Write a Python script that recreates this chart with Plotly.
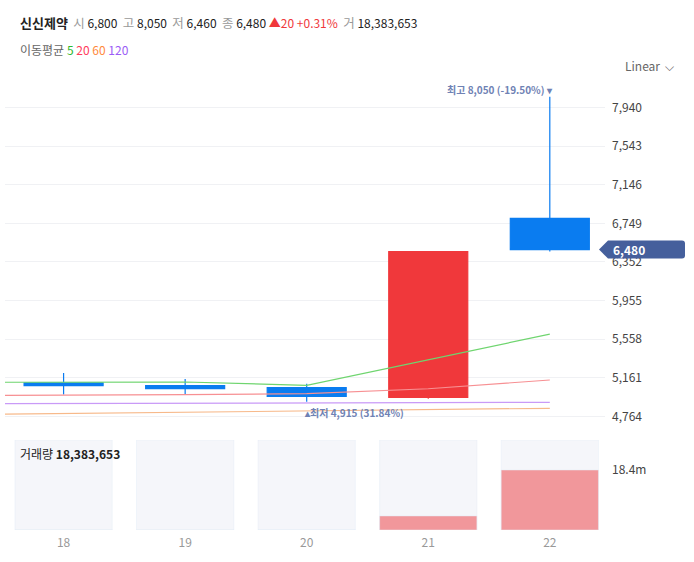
import plotly.graph_objects as go

# daily candles (day of month)
days = [18, 19, 20, 21, 22]
day_labels = ['18', '19', '20', '21', '22']
opens = [5110, 5080, 5060, 4960, 6800]
highs = [5210, 5150, 5100, 6460, 8050]
lows = [4990, 4990, 4915, 4945, 6460]
closes = [5080, 5050, 4970, 6460, 6480]
volumes = [20000, 15000, 25000, 4300000, 18383653]

# moving averages, one extra point on the left (day 17) so the lines reach the edge
ma_days = [17, 18, 19, 20, 21, 22]
ma5 = [5115, 5115, 5118, 5084, 5345, 5610]
ma20 = [4979, 4981, 4988, 4998, 5049, 5139]
ma60 = [4780, 4793, 4806, 4820, 4834, 4848]
ma120 = [4894, 4896, 4899, 4902, 4905, 4909]

price_ticks = [4764, 5161, 5558, 5955, 6352, 6749, 7146, 7543, 7940]

FONT = 'Noto Sans CJK KR'
UP = '#f0383b'
DOWN = '#0a7cf0'

fig = go.Figure()

ma_styles = [(ma120, '#c99af7'), (ma60, '#f7b98a'), (ma20, '#f79093'), (ma5, '#6fd56f')]
for vals, col in ma_styles:
    fig.add_trace(go.Scatter(x=ma_days, y=vals, mode='lines',
                             line=dict(color=col, width=1.2),
                             hoverinfo='skip', xaxis='x', yaxis='y'))

fig.add_trace(go.Candlestick(
    x=days, open=opens, high=highs, low=lows, close=closes,
    increasing=dict(line=dict(color=UP, width=1.2), fillcolor=UP),
    decreasing=dict(line=dict(color=DOWN, width=1.2), fillcolor=DOWN),
    whiskerwidth=0, xaxis='x', yaxis='y'))

# volume panel
vol_top = max(volumes) * 1.5
fig.add_trace(go.Bar(x=days, y=[vol_top] * len(days), marker_color='#f5f6fa',
                     width=0.8, hoverinfo='skip', xaxis='x2', yaxis='y2'))
fig.add_trace(go.Bar(x=days, y=volumes, marker_color='#f1979b',
                     width=0.8, xaxis='x2', yaxis='y2'))

last = closes[-1]
chg = closes[-1] - closes[-2]
pct = chg / closes[-2] * 100
hi = max(highs)
lo = min(lows)
gray = '#999'
dark = '#222'
sp = '\u00a0'


def lab(t):
    return f"<span style='color:{gray};font-size:12.5px'>{t}</span>{sp}"


header = (f"<span style='font-size:13px'><b>신신제약</b></span>{sp*2}{lab('시')}{opens[-1]:,}"
          f"{sp*2}{lab('고')}{highs[-1]:,}"
          f"{sp*2}{lab('저')}{lows[-1]:,}"
          f"{sp*2}{lab('종')}{last:,}"
          f"{sp}<span style='color:{UP}'>▲{chg}{sp}+{pct:.2f}%</span>"
          f"{sp*2}{lab('거')}{volumes[-1]:,}")
ma_legend = ("<span style='color:#666'>이동평균</span> "
             "<span style='color:#2eb82e'>5</span> "
             "<span style='color:#ff3b5c'>20</span> "
             "<span style='color:#ff8a3d'>60</span> "
             "<span style='color:#9b5cf6'>120</span>")

annotations = [
    dict(text=header, xref='paper', yref='paper', x=0.0217, y=1.127,
         xanchor='left', yanchor='middle', showarrow=False,
         font=dict(family=FONT, size=12, color=dark)),
    dict(text=ma_legend, xref='paper', yref='paper', x=0.0217, y=1.067,
         xanchor='left', yanchor='middle', showarrow=False,
         font=dict(family=FONT, size=12, color=dark)),
    dict(text="Linear  ⌵", xref='paper', yref='paper', x=1.03, y=1.033,
         xanchor='left', yanchor='middle', showarrow=False,
         font=dict(family=FONT, size=12, color='#666')),
    dict(text=f"<b>최고 {hi:,} ({(last - hi) / hi * 100:.2f}%) ▾</b>",
         x=days[highs.index(hi)], y=hi, xref='x', yref='y',
         xanchor='right', yanchor='bottom', xshift=5, yshift=-2, showarrow=False,
         font=dict(family=FONT, size=10, color='#6f82b4')),
    dict(text=f"<b>▴최저 {lo:,} ({(last - lo) / lo * 100:.2f}%)</b>",
         x=days[lows.index(lo)], y=lo, xref='x', yref='y',
         xanchor='left', yanchor='top', xshift=-5, yshift=-1, showarrow=False,
         font=dict(family=FONT, size=10, color='#6f82b4')),
    dict(text=f"<b>{last:,}</b>", x=1, y=last, xref='paper', yref='y',
         xanchor='left', yanchor='middle', xshift=6, showarrow=False,
         font=dict(family=FONT, size=12, color='white')),
    dict(text=f"거래량 <b>{volumes[-1]:,}</b>", xref='paper', yref='paper',
         x=0.0217, y=0.171, xanchor='left', yanchor='middle', showarrow=False,
         font=dict(family=FONT, size=12, color=dark)),
]

shapes = [
    dict(type='path', xref='paper', yref='y', xsizemode='pixel', ysizemode='pixel',
         xanchor=1, yanchor=last, layer='above',
         path='M -6,0 L 3,-9 L 77,-9 Q 80,-9 80,-6 L 80,6 Q 80,9 77,9 L 3,9 Z',
         fillcolor='#455f9c', line=dict(width=0)),
]

fig.update_layout(
    width=694, height=562,
    margin=dict(l=5, r=89, t=80, b=32),
    paper_bgcolor='white', plot_bgcolor='white',
    showlegend=False, barmode='overlay', boxgap=0.35, boxgroupgap=0,
    font=dict(family=FONT, size=12, color='#444'),
    xaxis=dict(domain=[0, 1], range=[17.518, 22.454], anchor='y',
               showticklabels=False, showgrid=False, zeroline=False,
               rangeslider=dict(visible=False), fixedrange=True),
    yaxis=dict(domain=[0.2333, 1], range=[4676, 8223], side='right',
               tickvals=price_ticks, ticktext=[f"{v:,}" for v in price_ticks],
               showgrid=True, gridcolor='#f0f1f4', zeroline=False,
               ticklabelstandoff=6, tickfont=dict(size=12, color='#444')),
    xaxis2=dict(domain=[0, 1], range=[17.518, 22.454], anchor='y2',
                tickvals=days, ticktext=day_labels, showgrid=False, zeroline=False,
                tickfont=dict(size=12, color='#999'), ticklabelstandoff=4),
    yaxis2=dict(domain=[0, 0.2], range=[0, vol_top], side='right',
                tickvals=[volumes[-1]], ticktext=[f"{volumes[-1] / 1e6:.1f}m"],
                showgrid=False, zeroline=False, ticklabelstandoff=6,
                tickfont=dict(size=12, color='#444')),
    annotations=annotations,
    shapes=shapes,
)

# the page body has a default 8px margin; drop it so the chart sits at the corner
fig.write_html("out.html", config={'displayModeBar': False},
               post_script="document.body.style.margin='0';")
